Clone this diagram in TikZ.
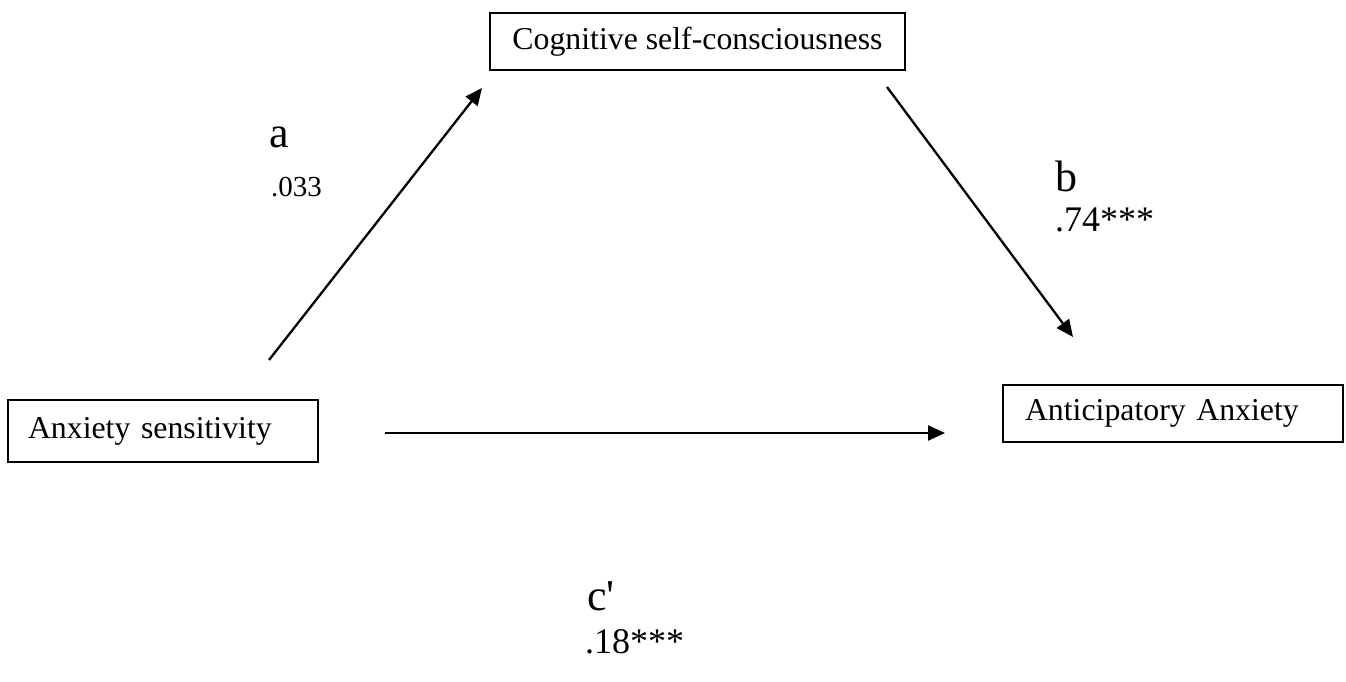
\documentclass[tikz,border=0pt]{standalone}
\usepackage{fontspec}
\setmainfont{Liberation Serif}
\newfontfamily\rawserif{Liberation Serif}
\usetikzlibrary{arrows.meta}
\begin{document}
\begin{tikzpicture}[x=1pt,y=-1pt,
  varbox/.style={draw, line width=1.6pt, rectangle, align=left, inner ysep=0pt,
    font=\fontsize{31.8}{36}\selectfont},
  conn/.style={line width=2.3pt, -{Triangle[length=17pt,width=15pt]}},
  letterlab/.style={anchor=base west, inner sep=0pt, font=\rawserif\fontsize{44}{50}\selectfont},
  numlab/.style={anchor=base west, inner sep=0pt, font=\fontsize{29}{34}\selectfont},
  biglab/.style={anchor=base west, inner sep=0pt, font=\fontsize{36}{42}\selectfont}]
\useasboundingbox (0,0) rectangle (1346,681);
\node[varbox, minimum width=415, minimum height=57, inner xsep=0pt, align=center] (csc) at (697.5,41.5) {Cognitive self-consciousness};
\node[varbox, minimum width=310, minimum height=62, inner xsep=20pt, text width=270, align=left] (as) at (163,431) {Anxiety sensitivity};
\node[varbox, minimum width=340, minimum height=57, inner xsep=22pt, text width=296, align=left] (aa) at (1173,413.5) {Anticipatory Anxiety};
\coordinate (a1) at (269,360);
\coordinate (a2) at (482,88);
\coordinate (b1) at (887,87);
\coordinate (b2) at (1073,337);
\coordinate (c1) at (385,433);
\coordinate (c2) at (945,433);
\draw[conn] (a1) -- (a2);
\draw[conn] (b1) -- (b2);
\draw[conn] (c1) -- (c2);
\node[letterlab] (la) at (269,147) {a};
\node[numlab] (na) at (271,196) {.033};
\node[letterlab] (lb) at (1055,191) {b};
\node[biglab] (nb) at (1055,231) {.74***};
\node[letterlab] (lc) at (587,610) {c'};
\node[biglab] (nc) at (585,653) {.18***};
\end{tikzpicture}
\end{document}
